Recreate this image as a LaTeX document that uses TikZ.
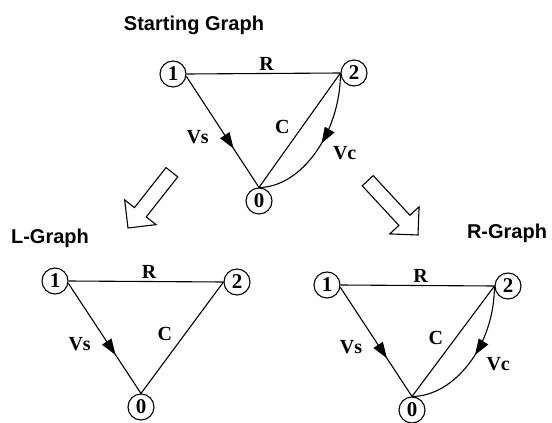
\documentclass[tikz,border=0pt]{standalone}
\usepackage{fontspec}
\setmainfont{Liberation Serif}
\newfontfamily\ttlfont{Liberation Sans}
\usetikzlibrary{arrows.meta,positioning,decorations.markings}

\begin{document}
\begin{tikzpicture}[x=1pt,y=-1pt,
        vtx/.style={draw,circle,line width=1.1pt,inner sep=0pt,
                    minimum size=26pt,
                    font=\fontsize{21}{22}\selectfont\bfseries},
        lbl/.style={inner sep=1pt,
                    font=\fontsize{20}{22}\selectfont\bfseries},
        ttl/.style={font=\ttlfont\fontsize{20}{22}\selectfont\bfseries},
        wire/.style={line width=1.1pt},
        srcarr/.style={line width=1.1pt,postaction={decorate},
                    decoration={markings,
                    mark=at position #1 with
                    {\arrow{Triangle[length=16pt,width=11pt]}}}},
        blk/.style={draw,line width=1.1pt,fill=white,line join=miter}]
        \useasboundingbox (0,0) rectangle (552,423);
        % starting graph
        \node[ttl] (ttlS) at (194,25) {Starting Graph};
        \node[vtx] (s1) at (173,74) {1};
        \node[vtx] (s2) at (354,73) {2};
        \node[vtx] (s0) at (259,201) {0};
        \draw[wire] (s1.east) -- node[lbl, pos=.52, above=1pt] {R} (s2.west);
        \draw[srcarr=.65] (s1.-10) -- node[lbl, pos=.55, left=16pt] {Vs} (s0.north);
        \draw[wire] (s2.west) -- node[lbl, pos=.47, left=11pt] {C} (s0.north);
        \draw[srcarr=.48] (s2.west) .. controls +(0,60) and +(42,0) ..
              node[lbl, pos=.5, right=16pt] {Vc} (s0.north);
        % split arrows
        \draw[blk, shift={(128,228)}, rotate=231.8]
              (0,0) -- (-20,20) -- (-20,7.5) -- (-71,7.5)
              -- (-71,-7.5) -- (-20,-7.5) -- (-20,-20) -- cycle;
        \draw[blk, shift={(418,235)}, rotate=-47.2]
              (0,0) -- (-20,20) -- (-20,7.5) -- (-74,7.5)
              -- (-74,-7.5) -- (-20,-7.5) -- (-20,-20) -- cycle;
        % L-graph
        \node[ttl] (ttlL) at (50,238) {L-Graph};
        \node[vtx] (l1) at (55,281) {1};
        \node[vtx] (l2) at (237,282) {2};
        \node[vtx] (l0) at (141,407) {0};
        \draw[wire] (l1.east) -- node[lbl, pos=.52, above=1pt] {R} (l2.west);
        \draw[srcarr=.65] (l1.-10) -- node[lbl, pos=.55, left=16pt] {Vs} (l0.north);
        \draw[wire] (l2.west) -- node[lbl, pos=.47, left=11pt] {C} (l0.north);
        % R-graph
        \node[ttl] (ttlR) at (507,233) {R-Graph};
        \node[vtx] (r1) at (327,285) {1};
        \node[vtx] (r2) at (508,286) {2};
        \node[vtx] (r0) at (412,410) {0};
        \draw[wire] (r1.east) -- node[lbl, pos=.52, above=1pt] {R} (r2.west);
        \draw[srcarr=.65] (r1.-10) -- node[lbl, pos=.55, left=16pt] {Vs} (r0.north);
        \draw[wire] (r2.west) -- node[lbl, pos=.47, left=11pt] {C} (r0.north);
        \draw[srcarr=.48] (r2.west) .. controls +(0,60) and +(42,0) ..
              node[lbl, pos=.5, right=16pt] {Vc} (r0.north);
      \end{tikzpicture}
\end{document}
